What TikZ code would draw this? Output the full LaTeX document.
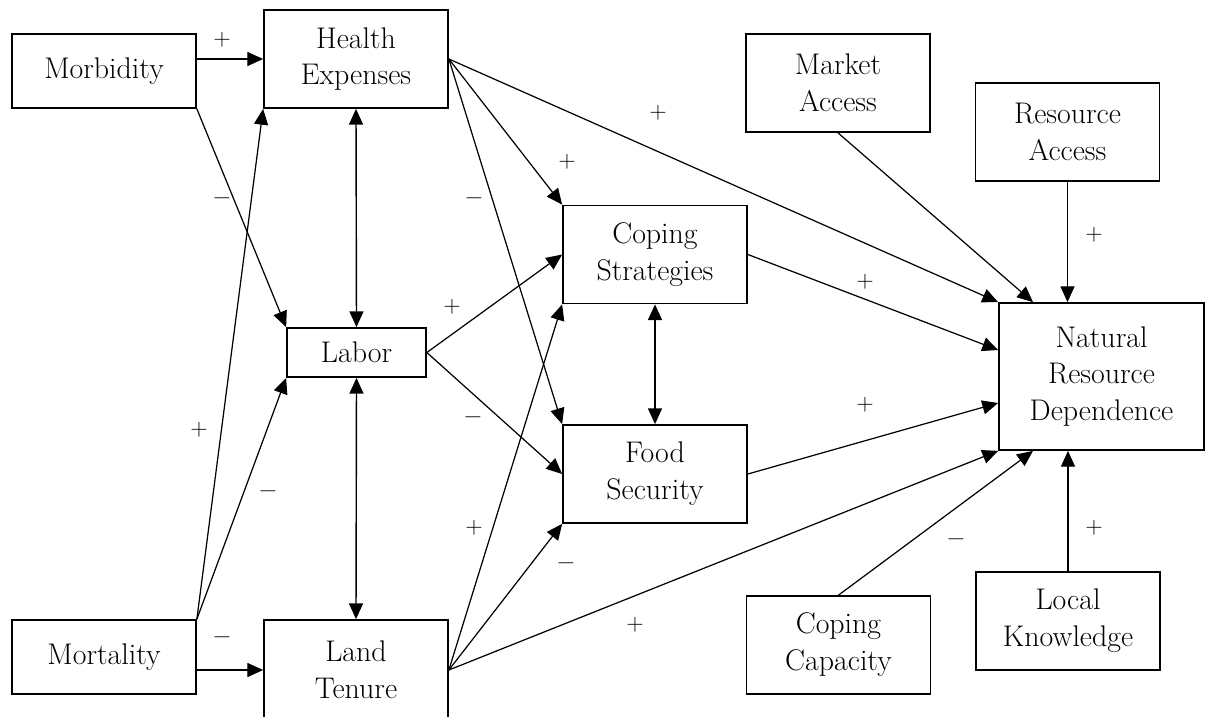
\documentclass[tikz,border=0pt]{standalone}
\usepackage{tikz}
\usetikzlibrary{arrows.meta, calc}

\tikzset{
	box/.style={draw, line width=1pt, align=center, inner sep=0pt,
		minimum width=3.68cm, minimum height=1.96cm,
		font=\fontsize{17pt}{21pt}\selectfont},
	link/.style={line width=0.7pt, -{Triangle[length=9pt,width=8pt]}},
	twoway/.style={line width=0.8pt, {Triangle[length=9pt,width=8pt]}-{Triangle[length=9pt,width=8pt]}},
	sign/.style={inner sep=0pt, font=\fontsize{13pt}{13pt}\selectfont},
	neg/.style={inner sep=0pt, font=\fontsize{15pt}{15pt}\selectfont\bfseries}
}

\begin{document}
\begin{tikzpicture}[x=0.02cm,y=-0.02cm]
	\useasboundingbox (0,0) rectangle (1205,717);
	% factors
	\node[box, minimum height=1.48cm] (morb) at (104,71) {Morbidity};
	\node[box] (health) at (356,59) {Health\\Expenses};
	\node[box, minimum width=2.78cm, minimum height=0.98cm] (labor) at (356.5,352.5) {Labor};
	\node[box, minimum height=1.48cm] (mort) at (104,657) {Mortality};
	\node[box, minimum height=2cm] (land) at (356,670) {Land\\Tenure};
	\node[box] (coping) at (655,254.5) {Coping\\Strategies};
	\node[box] (food) at (655,474) {Food\\Security};
	\node[box] (market) at (838,83) {Market\\Access};
	\node[box] (resacc) at (1067.5,132) {Resource\\Access};
	\node[box, minimum width=4.1cm, minimum height=2.94cm] (nrd) at (1101.5,376.5) {Natural\\Resource\\Dependence};
	\node[box] (copcap) at (838.5,645) {Coping\\Capacity};
	\node[box] (local) at (1068,621) {Local\\Knowledge};
	
	% links
	\draw[link] (morb.east |- health.west) -- (health.west);
	\draw[link] (morb.south east) -- (labor.north west);
	\draw[link] (mort.north east) -- (health.south west);
	\draw[link] (mort.north east) -- (labor.south west);
	\draw[link] (mort.east |- land.west) -- (land.west);
	\draw[twoway] (health.south) -- (labor.north);
	\draw[twoway] (labor.south) -- (land.north);
	\draw[link] (health.east) -- (coping.north west);
	\draw[link] (health.east) -- (food.north west);
	\draw[link] (health.east) -- (nrd.north west);
	\draw[link] (labor.east) -- (coping.west);
	\draw[link] (labor.east) -- (food.west);
	\draw[twoway] (coping.south) -- (food.north);
	\draw[link] (land.east) -- (coping.south west);
	\draw[link] (land.east) -- (food.south west);
	\draw[link] (land.east) -- (nrd.south west);
	\draw[link] (coping.east) -- ([yshift=0.53cm]nrd.west);
	\draw[link] (food.east) -- ([yshift=-0.53cm]nrd.west);
	\draw[link] (market.south) -- ([xshift=-1.37cm]nrd.north);
	\draw[link] (resacc.south) -- (resacc.south |- nrd.north);
	\draw[link] (copcap.north) -- ([xshift=-1.37cm]nrd.south);
	\draw[link] (local.north) -- (local.north |- nrd.south);
	
	% signs
	\node[sign] (s1) at (222,40) {+};
	\node[neg] (s2) at (222,202) {--};
	\node[sign] (s3) at (199,430) {+};
	\node[neg] (s4) at (268,495) {--};
	\node[neg] (s5) at (222,641) {--};
	\node[sign] (s6) at (567,162) {+};
	\node[neg] (s7) at (474,202) {--};
	\node[sign] (s8) at (658,113) {+};
	\node[sign] (s9) at (452,307) {+};
	\node[neg] (s10) at (473,421) {--};
	\node[sign] (s11) at (474,528) {+};
	\node[neg] (s12) at (566,567) {--};
	\node[sign] (s13) at (635,625) {+};
	\node[sign] (s14) at (865,282) {+};
	\node[sign] (s15) at (865,405) {+};
	\node[sign] (s16) at (1094,235) {+};
	\node[neg] (s17) at (956,543) {--};
	\node[sign] (s18) at (1094,528) {+};
\end{tikzpicture}
\end{document}
